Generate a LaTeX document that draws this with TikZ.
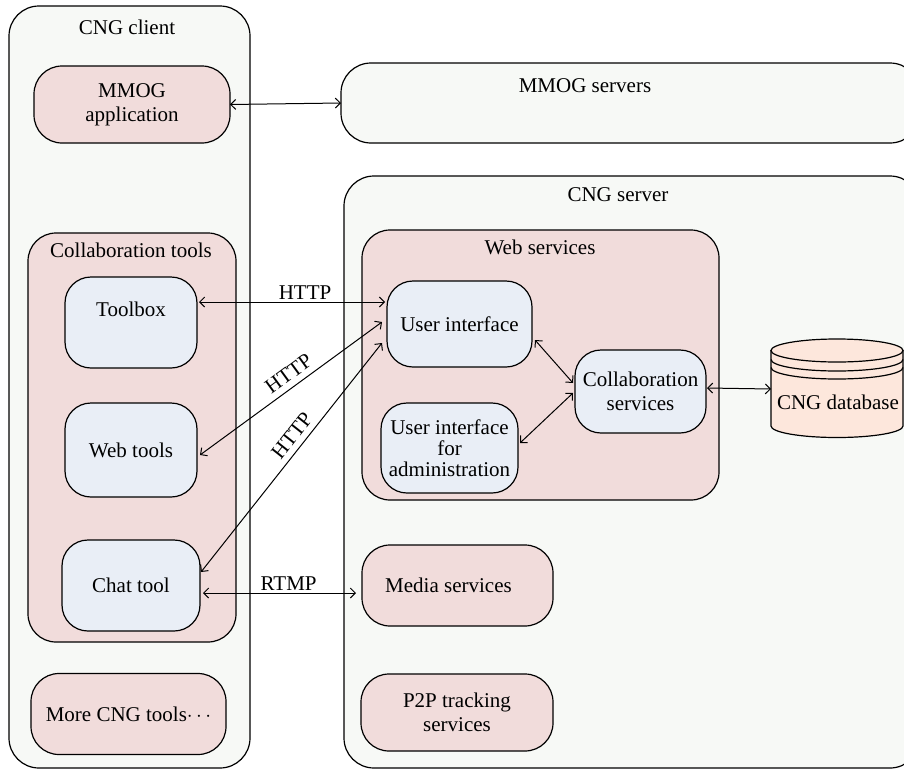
\documentclass[tikz,border=0pt]{standalone}
\usepackage{fontspec}
\setmainfont{Liberation Serif}
\usetikzlibrary{arrows.meta,calc}
\definecolor{outerfill}{HTML}{F7F9F6}
\definecolor{pinkfill}{HTML}{F1DCDB}
\definecolor{bluefill}{HTML}{E9EEF6}
\definecolor{dbfill}{HTML}{FDE7DC}
\begin{document}
\begin{tikzpicture}[x=1pt,y=-1pt,
  font=\fontsize{21}{24}\selectfont,
  boxbase/.style={draw, line width=1.2pt, align=center, inner sep=0pt, outer sep=0pt, shape=rectangle},
  outerbox/.style={boxbase, fill=outerfill, rounded corners=30pt},
  pinkbox/.style={boxbase, fill=pinkfill, rounded corners=28pt},
  bluebox/.style={boxbase, fill=bluefill, rounded corners=26pt},
  titletext/.style={inner sep=0pt},
  arr/.style={line width=1pt, {Straight Barb[length=5pt,width=10pt]}-{Straight Barb[length=5pt,width=10pt]}},
  lbl/.style={inner sep=2pt}]
\useasboundingbox (0,0) rectangle (904,771);
\fill[white] (0,0) rectangle (904,771);

% outer containers
\node[outerbox, minimum width=241pt, minimum height=762pt] (client) at (129.5,387) {};
\node[titletext] (clienttitle) at (127,27) {CNG client};
\node[outerbox, minimum width=579pt, minimum height=80pt] (mmogsrv) at (630.5,103) {};
\node[titletext] (mmogsrvtitle) at (585,86) {MMOG servers};
\node[outerbox, minimum width=576pt, minimum height=592pt] (cngsrv) at (632,472) {};
\node[titletext] (cngsrvtitle) at (618,195) {CNG server};

% client side
\node[pinkbox, minimum width=196pt, minimum height=77pt] (mmogapp) at (132,104.5) {MMOG\\application};
\node[pinkbox, minimum width=208pt, minimum height=409pt] (colltools) at (132,437.5) {};
\node[titletext] (colltoolstitle) at (131,250) {Collaboration tools};
\node[bluebox, minimum width=132pt, minimum height=91pt] (toolbox) at (131,322.5) {};
\node[titletext] (toolboxtext) at (131,309) {Toolbox};
\node[bluebox, minimum width=132pt, minimum height=94pt] (webtools) at (131,450) {Web tools};
\node[bluebox, minimum width=138pt, minimum height=91pt] (chat) at (131,585.5) {Chat tool};
\node[pinkbox, minimum width=195pt, minimum height=81pt] (moretools) at (128.5,714) {More CNG tools$\cdots$};

% server side
\node[pinkbox, minimum width=357pt, minimum height=270pt] (websrv) at (540.5,365) {};
\node[titletext] (websrvtitle) at (540,247) {Web services};
\node[bluebox, minimum width=145pt, minimum height=86pt] (ui) at (459.5,324) {User interface};
\node[bluebox, minimum width=137pt, minimum height=90pt] (admin) at (449.5,448) {User interface\\[-3pt]for\\[-3pt]administration};
\node[bluebox, minimum width=131pt, minimum height=83pt] (collab) at (640.5,391.5) {Collaboration\\services};
\node[pinkbox, minimum width=191pt, minimum height=81pt] (media) at (457.5,585.5) {\hspace*{-18pt}Media services};
\node[pinkbox, minimum width=192pt, minimum height=77pt] (p2p) at (457,712.5) {P2P tracking\\services};

% database cylinder
\filldraw[fill=dbfill, line width=1.2pt] (771,350.5) -- (771,426) arc[start angle=180,end angle=0,x radius=66,y radius=11.5] -- (903,350.5) -- cycle;
\filldraw[fill=dbfill, line width=1.2pt] (837,350.5) ellipse[x radius=66, y radius=11.5];
\draw[line width=1.2pt] (771,359.5) arc[start angle=180,end angle=0,x radius=66,y radius=11.5];
\draw[line width=1.2pt] (771,367.5) arc[start angle=180,end angle=0,x radius=66,y radius=11.5];
\node[titletext] (db) at (838,402) {CNG database};
\coordinate (dbleft) at (771,389);

% connectors
\draw[arr] (mmogapp.east) -- (mmogsrv.west);
\draw[arr] ([xshift=2pt,yshift=20.5pt]toolbox.east) -- node[lbl, pos=0.57, above] {HTTP} ([xshift=-2pt,yshift=22pt]ui.west);
\draw[arr] ([xshift=3pt,yshift=-5pt]webtools.east) -- node[lbl, pos=0.53, sloped, above=4pt] {HTTP} ([xshift=-5pt,yshift=2pt]ui.west);
\draw[arr] ([xshift=1pt,yshift=13.5pt]chat.east) -- node[lbl, pos=0.56, sloped, above=4pt] {HTTP} ([xshift=-5pt,yshift=-19pt]ui.west);
\draw[arr] ([xshift=3pt,yshift=-7.5pt]chat.east) -- node[lbl, pos=0.56, above] {RTMP} ([xshift=-6pt,yshift=-7.5pt]media.west);
\draw[arr] ([xshift=3pt,yshift=-16pt]ui.east) -- ([xshift=-2pt,yshift=8.5pt]collab.west);
\draw[arr] ([xshift=2pt,yshift=5pt]admin.east) -- ([xshift=-2pt,yshift=-1.5pt]collab.west);
\draw[arr] ([xshift=1pt,yshift=3.5pt]collab.east) -- (dbleft);
\end{tikzpicture}
\end{document}
